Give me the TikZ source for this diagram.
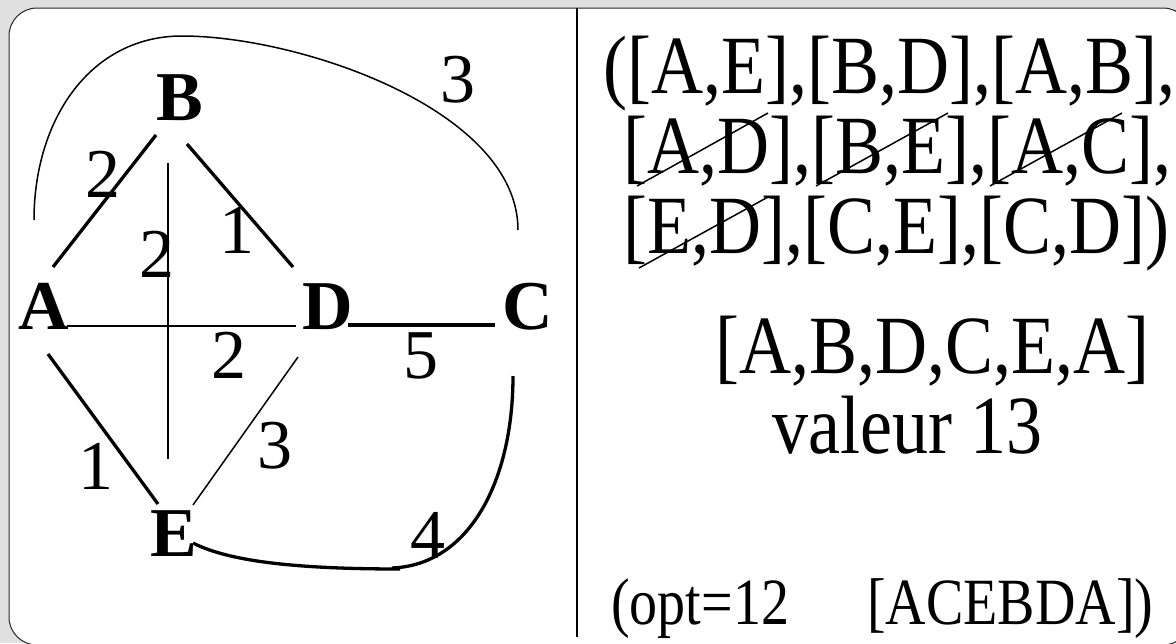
\documentclass[tikz,border=0pt]{standalone}
\usepackage{fontspec}
\setmainfont{Liberation Serif}
\begin{document}
\begin{tikzpicture}[x=1pt,y=-1pt,
  vlabel/.style={font=\fontsize{70}{74}\selectfont\bfseries, inner sep=0pt, anchor=base},
  wlabel/.style={font=\fontsize{70}{74}\selectfont, inner sep=0pt, anchor=base},
  rtext/.style={font=\fontsize{72}{76}\selectfont, inner sep=0pt, anchor=base west},
  stext/.style={font=\fontsize{56}{60}\selectfont, inner sep=0pt, anchor=base west},
  thick edge/.style={line width=3.3pt},
  thin edge/.style={line width=1.5pt},
  strike/.style={line width=1.5pt}]
\useasboundingbox (0,0) rectangle (1176,643);
\clip (0,0) rectangle (1176,643);
\fill[fill={rgb,255:red,224;green,224;blue,224}] (0,0) rectangle (1176,643);
\draw[fill=white, draw=black!85, line width=1pt, rounded corners=28pt] (9,8) rectangle (1191,645);
% divider
\coordinate (divtop) at (577,8);
\coordinate (divbot) at (577,637);
\draw[line width=1.6pt] (divtop) -- (divbot);
% vertex labels
\node[vlabel] (A) at (44,329) {A};
\node[vlabel] (B) at (180,120) {B};
\node[vlabel] (D) at (328,329) {D};
\node[vlabel] (C) at (528,329) {C};
\node[vlabel] (E) at (174,556) {E};
% edge end points
\coordinate (A-ne) at (53,267);
\coordinate (B-sw) at (156,135);
\coordinate (B-se) at (187,144);
\coordinate (D-nw) at (293,267);
\coordinate (B-s) at (168,163);
\coordinate (E-n) at (168,459);
\coordinate (A-e) at (67,326);
\coordinate (D-w) at (296,326);
\coordinate (D-e) at (348,325);
\coordinate (C-w) at (495,325);
\coordinate (A-se) at (48,354);
\coordinate (E-nw) at (158,504);
\coordinate (D-sw) at (298,357);
\coordinate (E-ne) at (193,505);
\coordinate (A-n) at (34,220);
\coordinate (C-n) at (518,230);
\coordinate (E-se) at (193,543);
\coordinate (EC1) at (400,569);
\coordinate (EC2) at (392,568);
\coordinate (C-s) at (513,376);
% edges
\draw[thick edge] (A-ne) -- (B-sw);
\draw[thick edge] (B-se) -- (D-nw);
\draw[thin edge] (B-s) -- (E-n);
\draw[thin edge] (A-e) -- (D-w);
\draw[thick edge] (D-e) -- (C-w);
\draw[thick edge] (A-se) -- (E-nw);
\draw[thin edge] (D-sw) -- (E-ne);
\draw[thin edge] (A-n) .. controls (34,120) and (90,36) .. (182,36)
   .. controls (300,36) and (518,110) .. (C-n);
\draw[thick edge] (E-se) .. controls (230,562) and (300,569) .. (EC1);
\draw[thick edge] (EC2) .. controls (470,565) and (513,480) .. (C-s);
% weights
\node[wlabel] (wAB) at (103,197) {2};
\node[wlabel] (wBE) at (157,277) {2};
\node[wlabel] (wBD) at (237,253) {1};
\node[wlabel] (wAC) at (458,102) {3};
\node[wlabel] (wAD) at (229,378) {2};
\node[wlabel] (wDC) at (421,378) {5};
\node[wlabel] (wAE) at (96,489) {1};
\node[wlabel] (wDE) at (275,468) {3};
\node[wlabel] (wEC) at (428,558) {4};
% right text
\node[rtext] (l1) at (603,93) {\scalebox{1}[1.15]{([A,E],[B,D],[A,B],}};
\node[rtext] (l2) at (623,173) {\scalebox{1}[1.15]{[A,D],[B,E],[A,C],}};
\node[rtext] (l3) at (623,253) {\scalebox{1}[1.15]{[E,D],[C,E],[C,D])}};
\node[rtext] (tour) at (715,373) {\scalebox{1}[1.15]{[A,B,D,C,E,A]}};
\node[rtext] (val) at (772,453) {\scalebox{1}[1.15]{valeur 13}};
\node[stext] (opt) at (611,624) {\scalebox{1}[1.18]{(opt=12}};
\node[stext] (optt) at (867,624) {\scalebox{1}[1.18]{[ACEBDA])}};
% strikes
\draw[strike] (637,186) -- (768,113);
\draw[strike] (816,186) -- (948,113);
\draw[strike] (990,186) -- (1122,113);
\draw[strike] (639,268) -- (768,197);
\end{tikzpicture}
\end{document}
